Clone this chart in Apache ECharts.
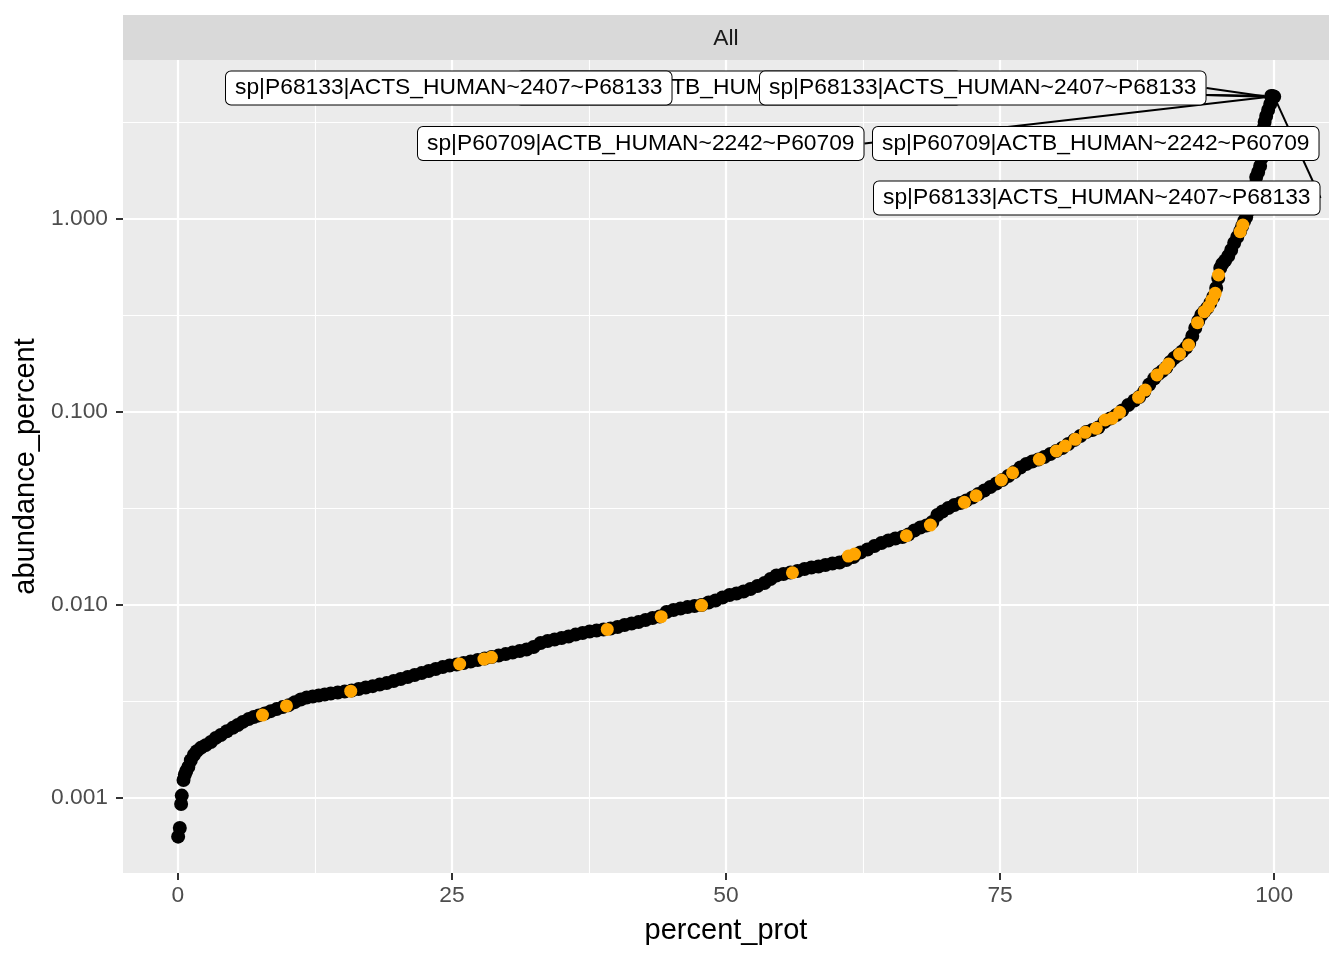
<!DOCTYPE html>
<html>
<head>
<meta charset="utf-8">
<script src="https://cdn.jsdelivr.net/npm/echarts@6/dist/echarts.min.js"></script>
<style>
  html, body { margin: 0; padding: 0; background: #fff; }
  #chart { width: 1344px; height: 960px; }
</style>
</head>
<body>
<div id="chart"></div>
<script>
// rank of the protein, in percent of all proteins
const pctProt = [0.03, 0.18, 0.30, 0.36, 0.52, 0.64, 0.77, 0.96, 1.19, 1.46, 1.73, 2.10, 2.55, 3.01, 3.46, 3.92, 4.47, 5.01, 5.47, 5.93,
  6.47, 6.93, 7.38, 7.93, 8.48, 9.02, 9.57, 10.12, 10.67, 11.21, 11.76, 12.31, 12.85, 13.40, 13.95, 14.59, 15.22, 15.86, 16.50, 17.14,
  17.78, 18.41, 19.05, 19.69, 20.33, 20.97, 21.60, 22.24, 22.88, 23.52, 24.16, 24.79, 25.43, 26.07, 26.71, 27.35, 27.99, 28.62, 29.26, 29.90,
  30.54, 31.18, 31.81, 32.45, 33.09, 33.73, 34.37, 35.00, 35.64, 36.28, 36.92, 37.56, 38.20, 38.83, 39.47, 40.11, 40.75, 41.39, 42.02, 42.66,
  43.30, 43.94, 44.58, 45.21, 45.85, 46.49, 47.13, 47.77, 48.41, 49.04, 49.68, 50.32, 50.96, 51.60, 52.23, 52.87, 53.51, 54.06, 54.60, 55.24,
  55.88, 56.52, 57.16, 57.79, 58.43, 59.07, 59.71, 60.35, 60.98, 61.62, 62.26, 62.90, 63.54, 64.18, 64.81, 65.45, 66.09, 66.64, 67.18, 67.73,
  68.28, 68.82, 69.28, 69.74, 70.28, 70.83, 71.38, 71.92, 72.47, 73.02, 73.56, 74.11, 74.66, 75.21, 75.75, 76.30, 76.85, 77.39, 77.94, 78.49,
  79.03, 79.58, 80.13, 80.67, 81.22, 81.77, 82.32, 82.86, 83.41, 83.96, 84.50, 85.05, 85.60, 86.14, 86.69, 87.24, 87.69, 88.15, 88.61, 89.06,
  89.43, 89.79, 90.16, 90.52, 90.88, 91.25, 91.61, 91.98, 92.25, 92.53, 92.80, 93.07, 93.35, 93.62, 93.89, 94.17, 94.44, 94.71, 94.90, 95.08,
  95.26, 95.53, 95.81, 96.08, 96.35, 96.63, 96.90, 97.08, 97.26, 97.45, 97.63, 97.81, 97.99, 98.18, 98.36, 98.54, 98.72, 98.86, 98.95, 99.00,
  99.04, 99.13, 99.27, 99.45, 99.64, 99.82]
const abundance = [0.000631, 0.000700, 0.000931, 0.00103, 0.00124, 0.00132, 0.00138, 0.00145, 0.00157, 0.00167, 0.00175, 0.00182, 0.00188, 0.00195, 0.00205, 0.00212, 0.00222, 0.00231, 0.00239, 0.00248,
  0.00257, 0.00263, 0.00268, 0.00274, 0.00282, 0.00289, 0.00296, 0.00303, 0.00314, 0.00324, 0.00332, 0.00336, 0.00340, 0.00344, 0.00348, 0.00352, 0.00356, 0.00361, 0.00367, 0.00374,
  0.00380, 0.00387, 0.00394, 0.00404, 0.00414, 0.00424, 0.00434, 0.00444, 0.00455, 0.00466, 0.00477, 0.00486, 0.00492, 0.00501, 0.00510, 0.00519, 0.00528, 0.00538, 0.00547, 0.00557,
  0.00567, 0.00578, 0.00588, 0.00606, 0.00636, 0.00651, 0.00663, 0.00675, 0.00687, 0.00703, 0.00716, 0.00729, 0.00738, 0.00747, 0.00756, 0.00769, 0.00788, 0.00802, 0.00816, 0.00836,
  0.00856, 0.00872, 0.00920, 0.00942, 0.00959, 0.00976, 0.00988, 0.0100, 0.01030, 0.01055, 0.01094, 0.01127, 0.01147, 0.01175, 0.01210, 0.01254, 0.01300, 0.01364, 0.01422, 0.01447,
  0.01474, 0.01500, 0.01537, 0.01564, 0.01583, 0.01612, 0.01641, 0.01661, 0.01711, 0.01773, 0.01871, 0.01939, 0.02021, 0.02095, 0.02159, 0.02211, 0.02251, 0.02319, 0.02432, 0.02521,
  0.02582, 0.02692, 0.02926, 0.03051, 0.03181, 0.03297, 0.03377, 0.03479, 0.03606, 0.03760, 0.03920, 0.04087, 0.04261, 0.04443, 0.04660, 0.04887, 0.05158, 0.05377, 0.05540, 0.05674,
  0.05845, 0.06058, 0.06280, 0.06509, 0.06827, 0.07161, 0.07509, 0.07877, 0.08067, 0.08313, 0.08876, 0.09254, 0.09649, 0.1018, 0.1087, 0.1147, 0.1196, 0.1277, 0.1388, 0.1491,
  0.1573, 0.1631, 0.1701, 0.1816, 0.1905, 0.1974, 0.2058, 0.2159, 0.2278, 0.2477, 0.2724, 0.2961, 0.3181, 0.3316, 0.3458, 0.3671, 0.3944, 0.4390, 0.4948, 0.5573,
  0.5845, 0.6095, 0.6431, 0.6909, 0.7509, 0.8067, 0.8667, 0.9199, 0.9764, 1.024, 1.100, 1.196, 1.316, 1.483, 1.651, 1.752, 1.882, 2.071, 2.333, 2.629,
  2.961, 3.181, 3.417, 3.671, 3.944, 4.236]

// highlighted proteins (orange)
const hiPct = [7.72, 9.91, 15.77, 25.71, 27.92, 28.60, 39.17, 44.09, 47.77, 56.06, 61.17, 61.72, 66.45, 68.64, 71.74, 72.81, 75.11, 76.14, 78.58, 80.13,
  80.95, 81.86, 82.77, 83.77, 84.59, 85.21, 85.90, 87.63, 88.24, 89.31, 90.06, 90.36, 91.37, 92.19, 93.01, 93.62, 94.01, 94.32, 94.62, 94.92,
  96.90, 97.14]
const hiAbundance = [0.00269, 0.00300, 0.00358, 0.00495, 0.00525, 0.00536, 0.00748, 0.00870, 0.00997, 0.01470, 0.01794, 0.01837, 0.02286, 0.02597, 0.03405, 0.03684, 0.04443, 0.04846, 0.05687, 0.06280,
  0.06666, 0.07221, 0.07849, 0.08234, 0.09090, 0.09277, 0.0996, 0.1192, 0.1300, 0.1555, 0.1684, 0.1773, 0.1998, 0.2225, 0.2902, 0.3309, 0.3512, 0.3804, 0.4121, 0.5126,
  0.8594, 0.9309]

// labelled top proteins
const labelPct = [99.77, 99.73, 99.86, 99.82, 99.91, 100.0]
const labelAbundance = [4.29, 4.34, 4.26, 4.31, 4.33, 4.30]
const labelNames = ['sp|P60709|ACTB_HUMAN~2242~P60709', 'sp|P68133|ACTS_HUMAN~2407~P68133', 'sp|P68133|ACTS_HUMAN~2407~P68133',
  'sp|P60709|ACTB_HUMAN~2242~P60709', 'sp|P60709|ACTB_HUMAN~2242~P60709', 'sp|P68133|ACTS_HUMAN~2407~P68133']

// axis ticks
const xMajor = [0, 25, 50, 75, 100]
const xMinor = [12.5, 37.5, 62.5, 87.5]
const yMajor = [0.001, 0.01, 0.1, 1]
const yMinor = [0.0031623, 0.031623, 0.31623, 3.1623]

// where the repelled label boxes sit (left edge, vertical centre), in px
const labelBoxes = [[516, 88], [226, 88], [760, 88], [418, 143.5], [873, 143.5], [874, 198]]
// leader line drawn or not (the one hidden under the points is left out)
const labelLineOn = [true, true, true, true, false, true]

const FONT = 'Liberation Sans'
const grey30 = '#4D4D4D'

const chart = echarts.init(document.getElementById('chart'))

const xBase = { type: 'value', min: -5, max: 105, axisLine: { show: false, onZero: false } }
const yBase = { type: 'log', logBase: 10, min: 0.000409, max: 6.665, axisLine: { show: false, onZero: false } }

const option = {
  animation: false,
  backgroundColor: '#fff',
  grid: { left: 123, right: 15, top: 60, bottom: 87, show: true, backgroundColor: '#EBEBEB', borderWidth: 0 },
  graphic: [
    { type: 'rect', left: 123, top: 15, shape: { width: 1206, height: 45 }, style: { fill: '#D9D9D9' }, silent: true },
    { type: 'text', x: 726, y: 39, style: { text: 'All', font: '22.8px "' + FONT + '"', fill: '#1A1A1A', textAlign: 'center', textVerticalAlign: 'middle' }, silent: true }
  ],
  xAxis: [
    {
      ...xBase,
      name: 'percent_prot',
      nameLocation: 'middle',
      nameGap: 43,
      nameTextStyle: { fontFamily: FONT, fontSize: 29, color: '#000' },
      axisTick: { show: true, length: 7, customValues: xMajor, lineStyle: { color: '#333', width: 2 } },
      axisLabel: { customValues: xMajor, margin: 11, fontFamily: FONT, fontSize: 22.8, color: grey30 },
      splitLine: { show: true, lineStyle: { color: '#fff', width: 2.2 } }
    },
    {
      ...xBase,
      axisTick: { show: false, customValues: xMinor },
      axisLabel: { show: false, customValues: xMinor },
      splitLine: { show: true, lineStyle: { color: '#fff', width: 1.1 } }
    }
  ],
  yAxis: [
    {
      ...yBase,
      position: 'left',
      name: 'abundance_percent',
      nameLocation: 'middle',
      nameGap: 79,
      nameTextStyle: { fontFamily: FONT, fontSize: 29, color: '#000' },
      axisTick: { show: true, length: 7, customValues: yMajor, lineStyle: { color: '#333', width: 2 } },
      axisLabel: { customValues: yMajor, margin: 15, fontFamily: FONT, fontSize: 22.8, color: grey30, formatter: v => Number(v).toFixed(3) },
      splitLine: { show: true, lineStyle: { color: '#fff', width: 2.2 } }
    },
    {
      ...yBase,
      position: 'left',
      axisTick: { show: false, customValues: yMinor },
      axisLabel: { show: false, customValues: yMinor },
      splitLine: { show: true, lineStyle: { color: '#fff', width: 1.1 } }
    }
  ],
  series: [
    {
      type: 'scatter',
      name: 'all',
      symbolSize: 14,
      itemStyle: { color: '#000', opacity: 1 },
      data: pctProt.map((x, i) => [x, abundance[i]]),
      silent: true
    },
    {
      type: 'scatter',
      name: 'highlight',
      symbolSize: 13,
      itemStyle: { color: '#FFA500', opacity: 1 },
      data: hiPct.map((x, i) => [x, hiAbundance[i]]),
      silent: true
    },
    {
      type: 'scatter',
      name: 'top',
      symbolSize: 14,
      itemStyle: { color: '#000', opacity: 1 },
      data: labelPct.map((x, i) => ({
        value: [x, labelAbundance[i]],
        name: labelNames[i],
        labelLine: { show: labelLineOn[i] }
      })),
      label: {
        show: true,
        formatter: '{b}',
        fontFamily: FONT,
        fontSize: 22.8,
        color: '#000',
        backgroundColor: '#fff',
        borderColor: '#000',
        borderWidth: 1,
        borderRadius: 5,
        padding: [5, 9, 5, 9]
      },
      labelLine: { show: true, lineStyle: { color: '#000', width: 2, opacity: 1 } },
      labelLayout: p => ({
        x: labelBoxes[p.dataIndex][0],
        y: labelBoxes[p.dataIndex][1],
        align: 'left',
        verticalAlign: 'middle'
      }),
      silent: true
    }
  ]
}

chart.setOption(option)
</script>
</body>
</html>
